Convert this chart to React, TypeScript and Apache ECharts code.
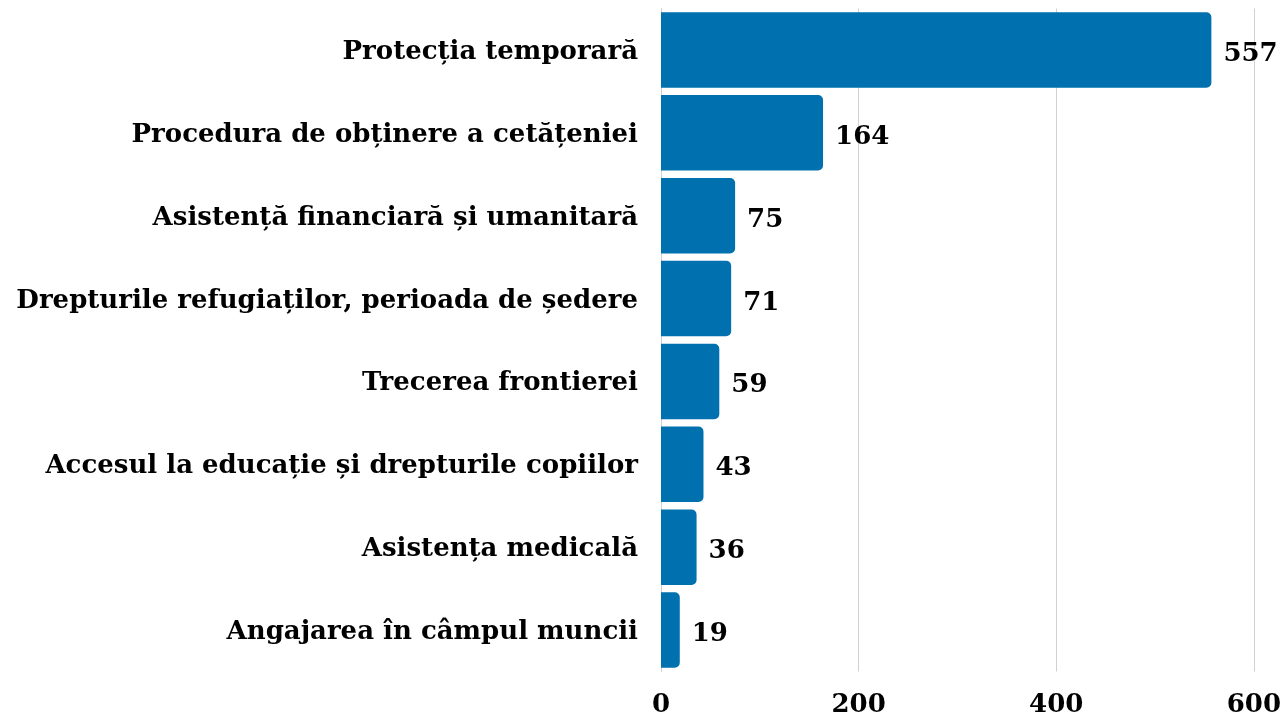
import React, { useEffect, useRef } from "react";
import * as echarts from "echarts";

const categories = [
  "Protecția temporară",
  "Procedura de obținere a cetățeniei",
  "Asistență financiară și umanitară",
  "Drepturile refugiaților, perioada de ședere",
  "Trecerea frontierei",
  "Accesul la educație și drepturile copiilor",
  "Asistența medicală",
  "Angajarea în câmpul muncii",
];
const values = [557, 164, 75, 71, 59, 43, 36, 19];
const xTicks = { min: 0, max: 600, interval: 200 };

const FONT = "'DejaVu Serif', 'Liberation Serif', serif";

export default function App() {
  const ref = useRef<HTMLDivElement>(null);
  useEffect(() => {
    if (!ref.current) return;
    const chart = echarts.init(ref.current, undefined, { renderer: "svg" });
    chart.setOption({
      animation: false,
      grid: { left: 661, right: 28, top: 8.5, bottom: 46.5, containLabel: false },
      xAxis: {
        type: "value",
        min: xTicks.min,
        max: xTicks.max,
        interval: xTicks.interval,
        axisLine: { show: false },
        axisTick: { show: false },
        splitLine: { show: true, lineStyle: { color: "#d0d0d0", width: 1 } },
        axisLabel: {
          color: "#000",
          fontFamily: FONT,
          fontWeight: "bold",
          fontSize: 26,
          margin: 18,
        },
      },
      yAxis: {
        type: "category",
        inverse: true,
        data: categories,
        axisLine: { show: true, lineStyle: { color: "#d0d0d0", width: 1 } },
        axisTick: { show: false },
        axisLabel: {
          color: "#000",
          fontFamily: FONT,
          fontWeight: "bold",
          fontSize: 26,
          margin: 23,
        },
      },
      series: [
        {
          type: "bar",
          data: values,
          barCategoryGap: "9%",
          itemStyle: { color: "#0070AE", borderRadius: [0, 5, 5, 0] },
          label: {
            show: true,
            position: "right",
            distance: 12,
            offset: [0, 2],
            color: "#000",
            fontFamily: FONT,
            fontWeight: "bold",
            fontSize: 26,
          },
        },
      ],
    });
    return () => chart.dispose();
  }, []);
  return (
    <div
      ref={ref}
      style={{ position: "fixed", left: 0, top: 0, width: 1284, height: 718 }}
    />
  );
}
